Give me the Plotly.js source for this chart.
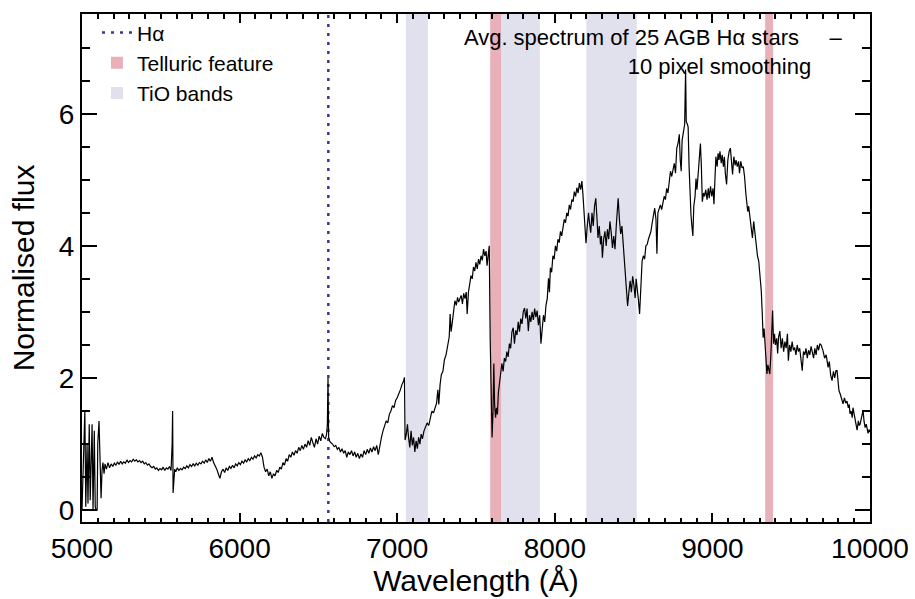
<!DOCTYPE html>
<html>
<head>
<meta charset="utf-8">
<script src="https://cdn.plot.ly/plotly-3.0.1.min.js"></script>
<style>html,body{margin:0;padding:0;background:#fff;}#chart{width:915px;height:599px;}</style>
</head>
<body>
<div id="chart"></div>
<script>
// Wavelength (Å) of the averaged spectrum
const wavelength = [
5000,5010,5018,5024,5032,5038,5046,5052,5058,5064,
5070,5078,5084,5090,5096,5100,5108,5114,5121,5127,
5133,5140,5146,5155,5165,5175,5185,5195,5205,5215,
5225,5235,5245,5255,5265,5275,5285,5295,5305,5315,
5325,5335,5345,5355,5365,5375,5385,5395,5405,5415,
5425,5435,5445,5455,5465,5475,5485,5495,5505,5515,
5525,5535,5545,5555,5565,5572,5575,5578,5582,5588,
5595,5605,5615,5625,5635,5645,5655,5665,5675,5685,
5695,5705,5715,5725,5735,5745,5755,5765,5775,5785,
5795,5805,5815,5825,5835,5845,5855,5865,5875,5885,
5895,5905,5915,5925,5935,5945,5955,5965,5975,5985,
5995,6005,6015,6025,6035,6045,6055,6065,6075,6085,
6095,6105,6115,6125,6135,6145,6155,6165,6175,6185,
6195,6205,6215,6225,6235,6245,6255,6265,6275,6285,
6295,6305,6315,6325,6335,6345,6355,6365,6375,6385,
6395,6405,6415,6425,6435,6445,6455,6465,6475,6485,
6495,6505,6515,6525,6535,6545,6552,6557,6561,6565,
6572,6580,6590,6600,6610,6620,6630,6640,6650,6660,
6670,6680,6690,6700,6710,6720,6730,6740,6750,6760,
6770,6780,6790,6800,6810,6820,6830,6840,6850,6860,
6870,6880,6890,6900,6910,6920,6930,6940,6950,6960,
6970,6980,6990,7000,7010,7020,7030,7040,7046,7050,
7058,7065,7072,7080,7088,7096,7104,7112,7120,7128,
7136,7144,7152,7160,7170,7180,7190,7200,7210,7220,
7230,7240,7250,7258,7264,7272,7280,7290,7300,7310,
7320,7330,7336,7342,7350,7358,7366,7375,7383,7390,
7398,7406,7414,7422,7430,7438,7444,7452,7460,7468,
7476,7484,7492,7500,7508,7516,7524,7532,7540,7548,
7556,7564,7570,7578,7584,7590,7596,7602,7608,7613,
7618,7624,7630,7636,7642,7648,7656,7664,7672,7680,
7688,7696,7704,7712,7720,7728,7736,7744,7752,7760,
7768,7776,7784,7792,7800,7808,7816,7824,7832,7840,
7848,7856,7864,7872,7880,7888,7896,7904,7912,7920,
7928,7936,7944,7952,7960,7966,7972,7980,7988,7996,
8004,8012,8020,8028,8036,8044,8052,8060,8068,8076,
8084,8092,8100,8108,8116,8124,8132,8140,8148,8156,
8164,8172,8178,8184,8190,8198,8206,8214,8220,8228,
8236,8244,8252,8260,8268,8274,8282,8290,8296,8302,
8310,8318,8326,8334,8342,8350,8358,8366,8374,8382,
8390,8398,8402,8410,8418,8426,8434,8442,8450,8456,
8462,8470,8478,8486,8494,8502,8510,8516,8522,8530,
8538,8546,8554,8562,8570,8578,8586,8594,8602,8610,
8618,8626,8634,8642,8648,8654,8662,8670,8678,8686,
8694,8702,8710,8718,8726,8734,8742,8750,8758,8766,
8774,8782,8790,8796,8802,8808,8816,8824,8830,8834,
8840,8846,8852,8858,8864,8870,8876,8882,8890,8896,
8902,8910,8918,8924,8930,8936,8944,8950,8958,8966,
8974,8980,8988,8996,9004,9010,9016,9022,9030,9036,
9042,9048,9056,9062,9070,9076,9082,9090,9098,9106,
9114,9120,9128,9136,9144,9150,9158,9166,9172,9180,
9188,9196,9204,9212,9218,9224,9230,9238,9246,9254,
9262,9270,9278,9286,9294,9302,9310,9316,9322,9328,
9334,9340,9346,9352,9358,9364,9370,9376,9382,9388,
9394,9400,9408,9414,9420,9428,9436,9444,9452,9460,
9468,9476,9482,9490,9498,9506,9514,9522,9530,9538,
9546,9554,9562,9570,9578,9586,9594,9602,9610,9618,
9626,9634,9642,9650,9658,9666,9674,9682,9690,9702,
9712,9722,9734,9742,9750,9759,9768,9776,9784,9791,
9797,9803,9812,9820,9829,9838,9846,9854,9862,9868,
9873,9880,9887,9892,9900,9908,9914,9918,9926,9932,
9937,9944,9950,9956,9962,9969,9976,9982,9988,9994,
10000
];

// Normalised flux
const flux = [
0.0,0.9,1.5,0.05,1.0,0.1,1.3,0.15,1.0,1.3,
0.0,1.2,0.05,0.0,0.0,1.0,1.35,0.8,0.18,0.6,
0.72,0.55,0.7,0.62,0.72,0.64,0.7,0.66,0.71,0.68,
0.73,0.69,0.74,0.7,0.73,0.71,0.76,0.72,0.75,0.73,
0.77,0.74,0.76,0.73,0.75,0.72,0.74,0.7,0.72,0.68,
0.7,0.66,0.64,0.66,0.62,0.64,0.6,0.63,0.61,0.65,
0.6,0.64,0.62,0.66,0.6,1.0,1.5,0.26,0.5,0.62,
0.58,0.64,0.6,0.63,0.61,0.65,0.63,0.67,0.64,0.69,
0.66,0.7,0.67,0.71,0.68,0.72,0.7,0.74,0.71,0.76,
0.72,0.78,0.74,0.8,0.72,0.68,0.62,0.55,0.48,0.58,
0.62,0.57,0.64,0.6,0.66,0.63,0.68,0.64,0.7,0.67,
0.72,0.69,0.74,0.71,0.76,0.73,0.78,0.75,0.8,0.77,
0.82,0.79,0.84,0.82,0.87,0.8,0.65,0.58,0.62,0.52,
0.58,0.48,0.55,0.52,0.6,0.57,0.65,0.62,0.72,0.68,
0.78,0.74,0.84,0.8,0.88,0.83,0.9,0.86,0.95,0.9,
0.98,0.92,1.0,0.95,1.05,0.98,1.1,1.02,0.95,1.08,
1.0,1.12,1.05,1.16,1.1,1.08,1.15,1.3,2.0,1.1,
1.04,1.02,1.0,0.96,0.98,0.92,0.95,0.88,0.93,0.86,
0.9,0.8,0.88,0.84,0.9,0.82,0.88,0.8,0.86,0.78,
0.85,0.8,0.9,0.84,0.92,0.86,0.94,0.88,0.96,0.9,
0.98,0.84,1.0,1.1,1.2,1.28,1.35,1.32,1.45,1.5,
1.58,1.55,1.66,1.7,1.78,1.82,1.9,1.95,2.01,1.06,
1.15,1.3,1.1,0.95,1.2,0.98,1.1,0.88,1.05,0.93,
1.1,1.0,1.15,1.08,1.2,1.25,1.32,1.28,1.42,1.5,
1.47,1.56,1.62,1.82,1.6,1.9,2.05,2.1,2.28,2.35,
2.5,2.62,2.97,2.7,2.85,3.05,3.17,3.1,3.22,3.15,
3.2,3.25,3.12,3.28,3.2,3.3,2.97,3.3,3.42,3.55,
3.5,3.68,3.62,3.75,3.65,3.8,3.72,3.85,3.78,3.95,
3.85,3.92,3.7,3.95,4.0,2.6,1.6,1.1,1.5,2.22,
1.6,1.4,1.55,1.45,1.78,1.9,2.0,2.22,2.1,2.3,
2.25,2.4,2.32,2.52,2.45,2.7,2.76,2.52,2.72,2.65,
2.85,2.7,2.9,2.82,3.0,3.06,2.9,3.05,2.71,2.95,
2.85,3.0,2.88,3.05,2.92,3.02,2.8,2.95,2.52,2.8,
2.95,2.85,3.1,3.2,3.51,3.3,3.67,3.6,3.85,3.8,
4.0,3.92,4.1,4.05,4.22,4.15,4.3,4.4,4.35,4.5,
4.45,4.62,4.55,4.7,4.67,4.82,4.75,4.88,4.8,4.95,
4.85,4.98,4.8,4.6,4.3,4.04,4.3,4.5,4.35,4.2,
4.5,4.3,4.6,4.72,4.4,4.12,4.3,4.02,4.15,3.82,
4.1,4.22,4.0,4.25,4.1,4.37,4.2,3.97,4.15,3.95,
4.3,4.55,4.72,4.4,4.18,4.3,4.05,3.8,3.6,3.3,
3.09,3.3,3.47,3.3,3.54,3.4,3.21,3.5,3.4,3.2,
2.97,3.5,3.77,3.85,3.8,4.0,4.02,4.1,4.18,4.22,
4.35,4.45,4.57,4.4,3.88,4.5,4.55,4.62,4.55,4.63,
4.75,4.7,4.87,4.8,5.0,5.13,5.05,5.15,5.25,5.1,
5.48,5.55,5.69,5.3,5.13,5.6,5.75,5.84,6.67,5.88,
5.85,5.8,5.2,4.6,4.47,4.3,4.15,4.6,4.75,5.02,
4.85,5.1,5.3,5.55,5.2,4.67,4.8,4.75,4.85,4.7,
4.87,4.72,4.9,4.75,4.87,4.63,5.0,5.35,5.2,5.4,
5.3,5.43,5.25,5.38,5.2,5.35,5.1,4.93,5.3,5.43,
5.48,5.3,5.08,5.35,5.22,5.3,5.2,5.28,5.1,5.28,
5.18,5.2,5.05,4.8,4.67,4.52,4.6,4.42,4.3,4.12,
4.37,4.2,3.97,3.85,3.77,3.55,3.32,3.0,2.61,2.75,
2.46,2.3,2.06,2.2,2.15,2.06,2.3,2.7,3.02,2.52,
2.67,2.5,2.6,2.37,2.62,2.71,2.45,2.6,2.4,2.55,
2.45,2.67,2.26,2.5,2.4,2.55,2.42,2.46,2.35,2.5,
2.4,2.45,2.3,2.11,2.4,2.35,2.45,2.3,2.42,2.35,
2.48,2.4,2.3,2.45,2.35,2.5,2.42,2.52,2.5,2.41,
2.3,2.35,2.16,2.25,2.05,1.96,2.1,2.0,2.11,2.11,
1.9,1.81,1.75,1.68,1.61,1.7,1.62,1.65,1.55,1.6,
1.46,1.5,1.4,1.55,1.45,1.35,1.3,1.21,1.35,1.28,
1.3,1.4,1.45,1.51,1.35,1.25,1.3,1.2,1.16,1.22,
1.18
];

// Marked wavelength regions (Å)
const halphaWavelength = 6563;
const telluricBands = [[7590, 7660], [9335, 9385]];
const tioBands = [[7055, 7195], [7660, 7905], [8200, 8520]];

// Axis ranges
const X_RANGE = [5000, 10000];
const Y_RANGE = [-0.18, 7.51];

// Text
const legendLabels = ['H\u03b1', 'Telluric feature', 'TiO bands'];
const spectrumLabel = 'Avg. spectrum of 25 AGB H\u03b1 stars';
const smoothingLabel = '10 pixel smoothing';

const FONT = 'Liberation Sans, Arial, Helvetica, sans-serif';
const PINK = '#e8b0b9';
const LAVENDER = '#e1e1ed';
const PURPLE = '#4b2c94';

function bandTrace(bands, color, name, rank) {
  return {
    type: 'bar', name: name, legendrank: rank,
    x: bands.map(b => (b[0] + b[1]) / 2),
    width: bands.map(b => b[1] - b[0]),
    base: bands.map(() => Y_RANGE[0]),
    y: bands.map(() => Y_RANGE[1] - Y_RANGE[0]),
    marker: {color: color, line: {width: 0}},
    hoverinfo: 'skip'
  };
}

const traces = [
  bandTrace(tioBands, LAVENDER, legendLabels[2], 3),
  bandTrace(telluricBands, PINK, legendLabels[1], 2),
  {
    type: 'scatter', mode: 'lines', name: legendLabels[0], legendrank: 1,
    x: [halphaWavelength, halphaWavelength], y: Y_RANGE,
    line: {color: PURPLE, width: 2.5, dash: '3px,6px'}, hoverinfo: 'skip'
  },
  {
    type: 'scatter', mode: 'lines', x: wavelength, y: flux,
    line: {color: '#000', width: 1.2}, showlegend: false, hoverinfo: 'skip'
  }
];

const NB = '\u00a0';
const axisCommon = {
  showline: true, linecolor: '#000', linewidth: 2, mirror: 'ticks',
  ticks: 'inside', tickcolor: '#000', tickwidth: 2,
  showgrid: false, zeroline: false,
  tickfont: {family: FONT, size: 28, color: '#000'}
};

const layout = {
  width: 915, height: 599,
  margin: {l: 82, r: 45, t: 12, b: 77},
  paper_bgcolor: '#fff', plot_bgcolor: 'rgba(0,0,0,0)',
  font: {family: FONT, color: '#000'},
  barmode: 'overlay',
  showlegend: true,
  legend: {
    x: 0.019, y: 0.904, xanchor: 'left', yanchor: 'middle',
    bgcolor: 'rgba(0,0,0,0)', borderwidth: 0, itemwidth: 30,
    font: {family: FONT, size: 21, color: '#000'}, traceorder: 'normal'
  },
  title: {
    text: spectrumLabel + NB + NB + NB + NB + NB + '\u2013<br>' + smoothingLabel +
      '<span style="color:rgba(0,0,0,0)">' + NB + '\u2013\u2013</span>',
    xref: 'container', yref: 'container', x: 0.920, y: 0.925,
    xanchor: 'right', yanchor: 'top',
    font: {family: FONT, size: 22, color: '#000'}
  },
  xaxis: Object.assign({}, axisCommon, {
    range: X_RANGE, dtick: 1000, tick0: 5000, ticklen: 9, tickformat: 'd',
    minor: {dtick: 100, ticklen: 4.5, tickwidth: 2, tickcolor: '#000', ticks: 'inside'},
    title: {text: 'Wavelength (\u00c5)', font: {family: FONT, size: 30, color: '#000'}, standoff: 4}
  }),
  yaxis: Object.assign({}, axisCommon, {
    range: Y_RANGE, dtick: 2, tick0: 0, ticklen: 15,
    minor: {dtick: 0.5, ticklen: 8, tickwidth: 2, tickcolor: '#000', ticks: 'inside'},
    title: {text: 'Normalised flux', font: {family: FONT, size: 30, color: '#000'}, standoff: 15}
  })
};

Plotly.newPlot('chart', traces, layout, {staticPlot: true, displayModeBar: false});
</script>
</body>
</html>
